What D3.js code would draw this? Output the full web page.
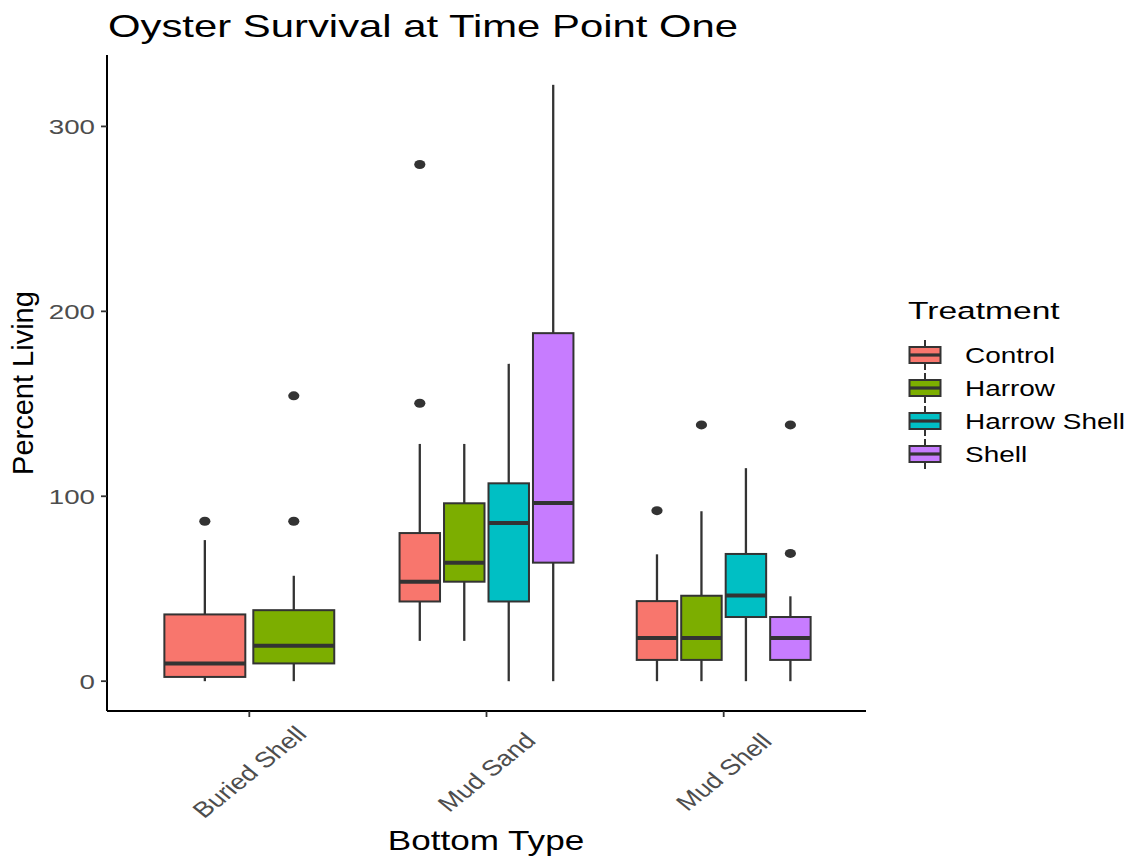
<!DOCTYPE html>
<html>
<head>
<meta charset="utf-8">
<script src="https://cdn.jsdelivr.net/npm/d3@7"></script>
<style>
  body { margin: 0; background: #fff; }
  text { font-family: "Liberation Sans", Arial, Helvetica, sans-serif; }
</style>
</head>
<body>
<div id="plotdiv"></div>
<script>
// data
const bottomTypes = ["Buried Shell", "Mud Sand", "Mud Shell"];
const treatments = ["Control", "Harrow", "Harrow Shell", "Shell"];
const colors = ["#F8766D", "#7CAE00", "#00BFC4", "#C77CFF"];

const boxBottom    = ["Buried Shell", "Buried Shell", "Mud Sand", "Mud Sand", "Mud Sand", "Mud Sand", "Mud Shell", "Mud Shell", "Mud Shell", "Mud Shell"];
const boxTreatment = ["Control", "Harrow", "Control", "Harrow", "Harrow Shell", "Shell", "Control", "Harrow", "Harrow Shell", "Shell"];
const lower   = [0,    0,    21.8,  21.8,  0,     0,     0,    0,    0,     0];
const q1      = [2.3,  9.6,  43.1,  53.8,  43.1,  64.1,  11.5, 11.5, 34.7,  11.5];
const median  = [9.6,  19.1, 53.8,  64.1,  85.5,  96.4,  23.3, 23.3, 46.4,  23.3];
const q3      = [36.1, 38.4, 80.1,  96.2,  107,   188.2, 43.3, 46.2, 68.8,  34.7];
const upper   = [76.3, 57,   128.3, 128.3, 171.6, 322.5, 68.6, 91.9, 115.2, 45.9];
const outliers = [[86.5], [86.5, 154.3], [150.3, 279.4], [], [], [], [92.2], [138.6], [], [69.1, 138.6]];
const yTicks = [0, 100, 200, 300];

// layout
const W = 1133, H = 857;
const panel = {left: 107, right: 866, top: 55, bottom: 711};
const sx = 1.32; // horizontal stretch of the reference's text

const svg = d3.select("#plotdiv")
  .append("svg")
  .attr("width", W)
  .attr("height", H);

const lo = d3.min(lower), hi = d3.max(upper);
const pad = (hi - lo) * 0.05;
const y = d3.scaleLinear()
  .domain([lo - pad, hi + pad])
  .range([panel.bottom, panel.top]);

const x = d3.scalePoint()
  .domain(bottomTypes)
  .range([panel.left, panel.right])
  .padding(0.6);

const dodgeW = x.step() * 0.75;
const color = d3.scaleOrdinal().domain(treatments).range(colors);

// one dodge scale per bottom type, only with the treatments present there
const dodge = {};
bottomTypes.forEach(b => {
  const present = treatments.filter(t => boxTreatment.some((tt, i) => tt == t && boxBottom[i] == b));
  dodge[b] = d3.scaleBand()
    .domain(present)
    .range([-dodgeW / 2, dodgeW / 2])
    .paddingInner(0.09)
    .paddingOuter(0.045);
});

const boxes = boxBottom.map((b, i) => ({
  b: b, t: boxTreatment[i], lo: lower[i], q1: q1[i], med: median[i], q3: q3[i], hi: upper[i], out: outliers[i]
}));

const g = svg.append("g");

boxes.forEach(d => {
  const bx = x(d.b) + dodge[d.b](d.t);
  const bw = dodge[d.b].bandwidth();
  const cx = bx + bw / 2;

  // whiskers
  g.append("line")
    .attr("x1", cx).attr("x2", cx)
    .attr("y1", y(d.hi)).attr("y2", y(d.q3))
    .attr("stroke", "#333333").attr("stroke-width", 2.3);
  g.append("line")
    .attr("x1", cx).attr("x2", cx)
    .attr("y1", y(d.q1)).attr("y2", y(d.lo))
    .attr("stroke", "#333333").attr("stroke-width", 2.3);

  // box
  g.append("rect")
    .attr("x", bx)
    .attr("y", y(d.q3))
    .attr("width", bw)
    .attr("height", y(d.q1) - y(d.q3))
    .attr("fill", color(d.t))
    .attr("stroke", "#333333")
    .attr("stroke-width", 2);

  // median
  g.append("line")
    .attr("x1", bx).attr("x2", bx + bw)
    .attr("y1", y(d.med)).attr("y2", y(d.med))
    .attr("stroke", "#333333").attr("stroke-width", 4);

  // outliers
  g.selectAll(null)
    .data(d.out)
    .enter()
    .append("ellipse")
    .attr("cx", cx)
    .attr("cy", v => y(v))
    .attr("rx", 5.6)
    .attr("ry", 4.5)
    .attr("fill", "#333333");
});

// axes
svg.append("line")
  .attr("x1", panel.left).attr("x2", panel.left)
  .attr("y1", panel.top).attr("y2", panel.bottom)
  .attr("stroke", "#000").attr("stroke-width", 2);
svg.append("line")
  .attr("x1", panel.left).attr("x2", panel.right)
  .attr("y1", panel.bottom).attr("y2", panel.bottom)
  .attr("stroke", "#000").attr("stroke-width", 2);

yTicks.forEach(v => {
  svg.append("line")
    .attr("x1", panel.left - 6).attr("x2", panel.left)
    .attr("y1", y(v)).attr("y2", y(v))
    .attr("stroke", "#333333").attr("stroke-width", 1.8);
  svg.append("text")
    .attr("transform", "translate(" + (panel.left - 12) + "," + (y(v) + 7.5) + ") scale(" + sx + ",1)")
    .attr("text-anchor", "end")
    .attr("font-size", 21)
    .attr("fill", "#4D4D4D")
    .text(v);
});

bottomTypes.forEach(b => {
  svg.append("line")
    .attr("x1", x(b)).attr("x2", x(b))
    .attr("y1", panel.bottom).attr("y2", panel.bottom + 6)
    .attr("stroke", "#333333").attr("stroke-width", 1.8);
  svg.append("text")
    .attr("transform", "translate(" + x(b) + "," + 772 + ") scale(1.24,1) rotate(-45)")
    .attr("text-anchor", "middle")
    .attr("dy", "0.35em")
    .attr("font-size", 22)
    .attr("fill", "#4D4D4D")
    .text(b);
});

// titles
svg.append("text")
  .attr("transform", "translate(108,37) scale(1.35,1)")
  .attr("font-size", 31)
  .attr("fill", "#000")
  .text("Oyster Survival at Time Point One");

svg.append("text")
  .attr("transform", "translate(486,850) scale(1.3,1)")
  .attr("text-anchor", "middle")
  .attr("font-size", 27)
  .attr("fill", "#000")
  .text("Bottom Type");

svg.append("text")
  .attr("transform", "translate(33,383) rotate(-90)")
  .attr("text-anchor", "middle")
  .attr("font-size", 29)
  .attr("fill", "#000")
  .text("Percent Living");

// legend
const leg = svg.append("g");
leg.append("text")
  .attr("transform", "translate(908,319) scale(1.37,1)")
  .attr("font-size", 24.5)
  .attr("fill", "#000")
  .text("Treatment");

treatments.forEach((t, i) => {
  const cy = 355 + i * 33;
  leg.append("line")
    .attr("x1", 925).attr("x2", 925)
    .attr("y1", cy - 15).attr("y2", cy + 15)
    .attr("stroke", "#333333").attr("stroke-width", 2);
  leg.append("rect")
    .attr("x", 909.5).attr("y", cy - 8)
    .attr("width", 31).attr("height", 16)
    .attr("fill", color(t))
    .attr("stroke", "#333333").attr("stroke-width", 2);
  leg.append("line")
    .attr("x1", 909.5).attr("x2", 940.5)
    .attr("y1", cy).attr("y2", cy)
    .attr("stroke", "#333333").attr("stroke-width", 3.2);
  leg.append("text")
    .attr("transform", "translate(965," + (cy + 7.8) + ") scale(1.3,1)")
    .attr("font-size", 21.5)
    .attr("fill", "#000")
    .text(t);
});
</script>
</body>
</html>
